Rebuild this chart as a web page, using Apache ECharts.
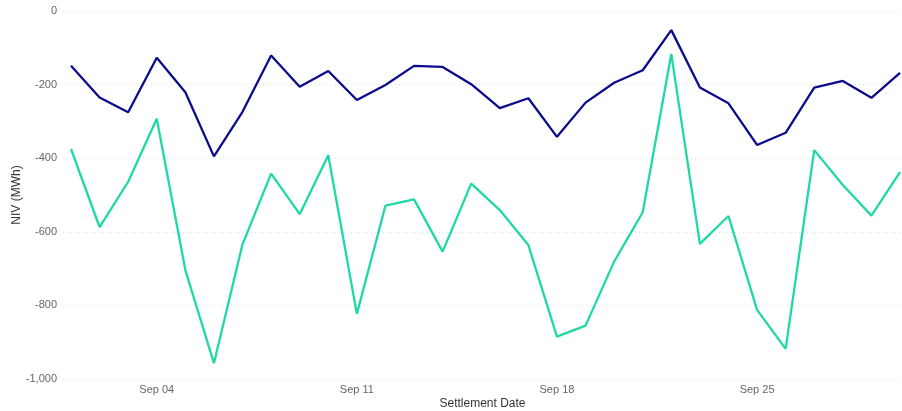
<!DOCTYPE html>
<html>
<head>
<meta charset="utf-8">
<title>NIV</title>
<script src="https://cdn.jsdelivr.net/npm/echarts@6/dist/echarts.min.js"></script>
<style>
  html, body { margin: 0; padding: 0; background: #fff; }
  #main { width: 902px; height: 411px; }
</style>
</head>
<body>
<div id="main"></div>
<script>
// settlement dates, day of month in September (1 .. 30)
var days = [1, 2, 3, 4, 5, 6, 7, 8, 9, 10,
	11, 12, 13, 14, 15, 16, 17, 18, 19, 20,
	21, 22, 23, 24, 25, 26, 27, 28, 29, 30];

// dark navy line
var nivUpper = [-149, -235, -275, -127, -221, -395, -274, -121, -206, -163,
	-242, -201, -149, -152, -199, -264, -237, -342, -249, -195,
	-161, -52, -208, -251, -364, -331, -208, -190, -236, -168];

// teal line
var nivLower = [-375, -587, -464, -293, -704, -957, -634, -442, -552, -392,
	-823, -529, -512, -654, -469, -541, -636, -885, -855, -681,
	-547, -117, -633, -557, -812, -918, -378, -473, -556, -438];

// x labels (days shown)
var tickDays = [4, 11, 18, 25];

function pairs(vals) {
	return days.map(function (d, i) { return [d, vals[i]]; });
}

var myChart = echarts.init(document.getElementById('main'));
var option = {
	animation: false,
	grid: { left: 63, right: 0, top: 11, bottom: 32, containLabel: false, outerBoundsMode: 'none' },
	xAxis: {
		type: 'value',
		min: days[0] - 0.28,
		max: days[days.length - 1] + 0.07,
		name: 'Settlement Date',
		nameLocation: 'middle',
		nameGap: 19,
		nameMoveOverlap: false,
		nameTextStyle: { color: '#333', fontSize: 12, fontFamily: 'Liberation Sans' },
		axisLine: { show: false },
		axisTick: { show: false },
		splitLine: { show: false },
		axisLabel: {
			customValues: tickDays,
			color: '#666',
			fontSize: 11,
			fontFamily: 'Liberation Sans',
			margin: 5,
			formatter: function (v) {
				var d = Math.round(v);
				return 'Sep ' + (d < 10 ? '0' + d : d);
			}
		}
	},
	yAxis: {
		type: 'value',
		min: -1000,
		max: 0,
		interval: 200,
		name: 'NIV (MWh)',
		nameLocation: 'middle',
		nameGap: 40,
		nameMoveOverlap: false,
		nameRotate: 90,
		nameTextStyle: { color: '#333', fontSize: 12, fontFamily: 'Liberation Sans' },
		axisLine: { show: false },
		axisTick: { show: false },
		axisLabel: {
			color: '#666',
			fontSize: 11,
			fontFamily: 'Liberation Sans',
			margin: 6,
			formatter: function (v) {
				return v.toLocaleString('en-US');
			}
		},
		splitLine: { lineStyle: { color: '#ddd', type: [1, 3], width: 1 } }
	},
	series: [
		{
			name: 'Upper',
			type: 'line',
			data: pairs(nivUpper),
			showSymbol: false,
			lineStyle: { color: '#0b0b8c', width: 2.3 },
			itemStyle: { color: '#0b0b8c' }
		},
		{
			name: 'Lower',
			type: 'line',
			data: pairs(nivLower),
			showSymbol: false,
			lineStyle: { color: '#1ed9a6', width: 2.3 },
			itemStyle: { color: '#1ed9a6' }
		}
	]
};
myChart.setOption(option);
</script>
</body>
</html>
